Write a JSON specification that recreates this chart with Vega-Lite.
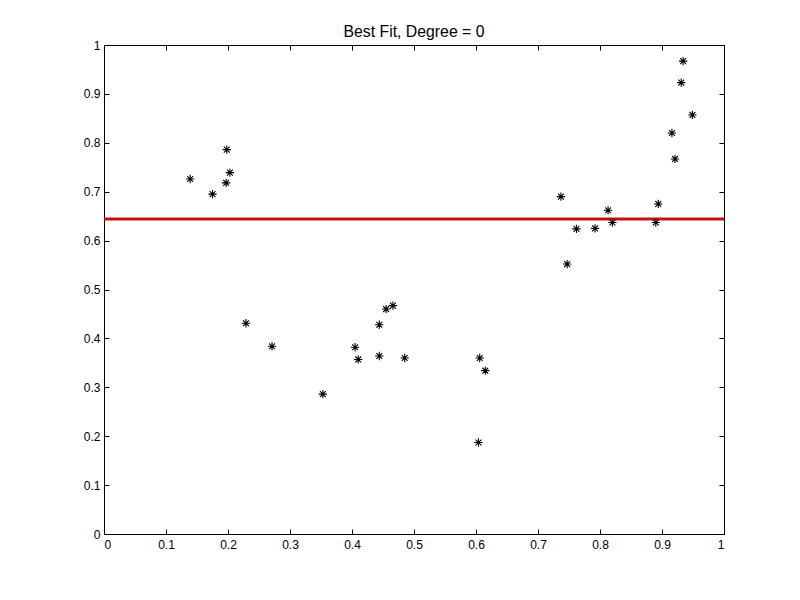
{
  "$schema": "https://vega.github.io/schema/vega-lite/v6.json",
  "width": 620,
  "height": 489,
  "autosize": {"type": "none"},
  "padding": {"left": 104, "top": 45, "right": 76, "bottom": 66},
  "background": "white",
  "title": {"text": "Best Fit, Degree = 0", "font": "Liberation Sans", "fontSize": 15.8, "fontWeight": "normal", "color": "black", "offset": -2},
  "config": {
    "view": {"stroke": "black", "strokeWidth": 1},
    "axis": {"grid": false, "domain": false, "tickColor": "black", "labelColor": "black", "labelFont": "Liberation Sans", "labelFontSize": 12, "title": null}
  },
  "datasets": {
    "pts": [
      {"x": 0.139, "y": 0.726}, {"x": 0.175, "y": 0.695}, {"x": 0.198, "y": 0.786}, {"x": 0.197, "y": 0.718}, {"x": 0.203, "y": 0.739},
      {"x": 0.229, "y": 0.431}, {"x": 0.271, "y": 0.384}, {"x": 0.353, "y": 0.286},
      {"x": 0.405, "y": 0.382}, {"x": 0.410, "y": 0.357}, {"x": 0.444, "y": 0.428}, {"x": 0.444, "y": 0.364},
      {"x": 0.455, "y": 0.460}, {"x": 0.466, "y": 0.467}, {"x": 0.485, "y": 0.360},
      {"x": 0.604, "y": 0.187}, {"x": 0.606, "y": 0.360}, {"x": 0.615, "y": 0.334},
      {"x": 0.737, "y": 0.690}, {"x": 0.747, "y": 0.552}, {"x": 0.762, "y": 0.624}, {"x": 0.792, "y": 0.625},
      {"x": 0.813, "y": 0.662}, {"x": 0.820, "y": 0.637}, {"x": 0.890, "y": 0.637}, {"x": 0.894, "y": 0.675},
      {"x": 0.916, "y": 0.820}, {"x": 0.921, "y": 0.767}, {"x": 0.931, "y": 0.923}, {"x": 0.934, "y": 0.967}, {"x": 0.949, "y": 0.857}
    ],
    "fit": [{"x": 0, "y": 0.644}, {"x": 1, "y": 0.644}]
  },
  "layer": [
    {
      "data": {"name": "fit"},
      "mark": {"type": "line", "color": "#c41010", "strokeWidth": 3, "clip": true},
      "encoding": {
        "x": {"field": "x", "type": "quantitative", "scale": {"domain": [0, 1], "nice": false}, "axis": {"orient": "bottom", "tickSize": -5, "labelPadding": 10, "format": "~g", "values": [0, 0.1, 0.2, 0.3, 0.4, 0.5, 0.6, 0.7, 0.8, 0.9, 1]}},
        "y": {"field": "y", "type": "quantitative", "scale": {"domain": [0, 1], "nice": false}, "axis": {"orient": "left", "tickSize": -5, "labelPadding": 9, "format": "~g", "values": [0, 0.1, 0.2, 0.3, 0.4, 0.5, 0.6, 0.7, 0.8, 0.9, 1]}}
      }
    },
    {
      "data": {"name": "pts"},
      "mark": {"type": "point", "shape": "M-1,0L1,0M0,-1L0,1M-0.7,-0.7L0.7,0.7M-0.7,0.7L0.7,-0.7", "size": 70, "stroke": "black", "strokeWidth": 1.1, "filled": false, "opacity": 1},
      "encoding": {
        "x": {"field": "x", "type": "quantitative", "axis": {"orient": "top", "labels": false, "tickSize": -5, "values": [0, 0.1, 0.2, 0.3, 0.4, 0.5, 0.6, 0.7, 0.8, 0.9, 1]}},
        "y": {"field": "y", "type": "quantitative", "axis": {"orient": "right", "labels": false, "tickSize": -5, "values": [0, 0.1, 0.2, 0.3, 0.4, 0.5, 0.6, 0.7, 0.8, 0.9, 1]}}
      }
    }
  ],
  "resolve": {"axis": {"x": "independent", "y": "independent"}}
}
